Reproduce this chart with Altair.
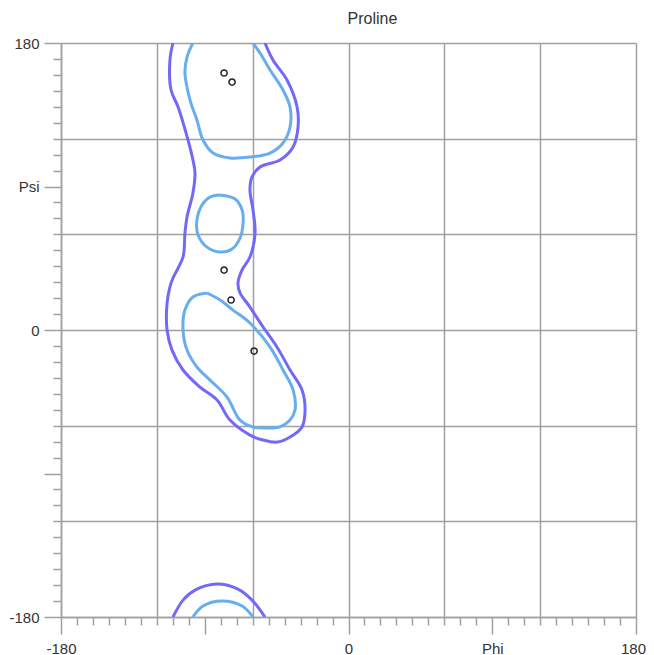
import altair as alt
import pandas as pd

# ---- data (phi, psi in degrees) ----
outer_main_phi = [-109.9, -111.8, -111.1, -106.7, -100.5, -97.4, -96.1, -97.4, -101.1, -102.4,
                  -103.6, -109.9, -111.8, -113.6, -113.6, -110.5, -103.6, -93.0, -82.3, -74.2,
                  -61.7, -53.5, -44.8, -36.6, -29.1, -27.2, -29.1, -36.6, -44.8, -53.5,
                  -61.7, -67.9, -69.2, -66.7, -61.7, -58.5, -59.8, -61.7, -60.4, -55.4,
                  -42.9, -34.7, -31.6, -32.2, -38.5, -47.3, -52.3]
outer_main_psi = [180.0, 169.3, 150.5, 139.9, 119.2, 106.6, 98.5, 85.9, 70.9, 60.8,
                  45.8, 32.6, 27.0, 16.9, 0.0, -12.6, -25.1, -35.8, -43.9, -56.5,
                  -65.9, -69.0, -70.3, -67.1, -60.8, -50.2, -37.6, -25.1, -10.7, 1.9,
                  14.4, 23.2, 29.5, 37.6, 45.8, 60.8, 75.3, 87.8, 96.0, 102.2,
                  106.6, 114.8, 127.3, 139.9, 156.8, 169.3, 180.0]

outer_bottom_phi = [-109.9, -103.6, -96.1, -82.3, -69.2, -60.4, -52.3]
outer_bottom_psi = [-180.0, -169.4, -163.1, -159.3, -162.5, -169.4, -180.0]

inner_top_phi = [-97.4, -101.1, -102.4, -99.2, -94.9, -91.1, -84.8, -74.2, -61.7, -49.1,
                 -41.0, -36.6, -36.6, -41.0, -49.1, -55.4, -59.8]
inner_top_psi = [180.0, 171.2, 161.2, 144.2, 131.7, 119.2, 111.0, 107.9, 108.5, 111.0,
                 117.3, 127.3, 139.9, 150.5, 163.1, 173.7, 180.0]

inner_bottom_phi = [-97.4, -91.1, -79.2, -66.6, -59.8]
inner_bottom_psi = [-180.0, -173.1, -170.0, -173.1, -180.0]

inner_mid_phi = [-80.4, -71.0, -66.6, -66.0, -67.9, -72.9, -80.4, -88.6, -94.2, -94.9, -91.7, -86.7, -80.4]
inner_mid_psi = [84.7, 82.2, 75.3, 67.1, 57.7, 50.8, 48.9, 52.0, 59.6, 69.0, 78.4, 83.4, 84.7]

inner_low_phi = [-88.6, -80.4, -72.3, -61.7, -49.1, -41.0, -34.7, -33.5, -36.6, -42.9,
                 -51.0, -59.8, -67.9, -76.1, -86.7, -94.9, -101.1, -103.6, -102.4, -97.4, -88.6]
inner_low_psi = [23.2, 18.8, 12.5, 4.4, -10.7, -25.1, -37.6, -50.2, -56.5, -60.8,
                 -61.5, -60.8, -56.5, -42.0, -31.4, -23.2, -12.6, 0.0, 12.5, 20.7, 23.2]

point_phi = [-77.9, -72.9, -77.9, -73.5, -59.1]
point_psi = [161.2, 155.5, 37.6, 18.8, -13.2]

segments = [
    ("outer_main", "outer", outer_main_phi, outer_main_psi),
    ("outer_bottom", "outer", outer_bottom_phi, outer_bottom_psi),
    ("inner_top", "inner", inner_top_phi, inner_top_psi),
    ("inner_bottom", "inner", inner_bottom_phi, inner_bottom_psi),
    ("inner_mid", "inner", inner_mid_phi, inner_mid_psi),
    ("inner_low", "inner", inner_low_phi, inner_low_psi),
]

rows = []
for seg, level, phis, psis in segments:
    for i, (a, b) in enumerate(zip(phis, psis)):
        rows.append({"seg": seg, "level": level, "i": i, "phi": a, "psi": b})
lines_df = pd.DataFrame(rows)
pts_df = pd.DataFrame({"phi": point_phi, "psi": point_psi})

ticks = list(range(-180, 181, 10))
GRAY = "#a0a0a0"
TXT = "#333333"
FONT = "Liberation Sans"

def make_axis(lab90, pad, last_offset):
    return alt.Axis(
        values=ticks,
        tickCount=100,
        title=None,
        grid=True,
        gridColor=GRAY,
        gridWidth=1.5,
        gridOpacity={"condition": {"test": "datum.value % 60 === 0", "value": 1}, "value": 0},
        domainColor=GRAY,
        domainWidth=1.5,
        tickColor=GRAY,
        tickWidth=1.5,
        tickSize={"condition": {"test": "datum.value % 90 === 0", "value": 17}, "value": 8},
        labelExpr=f"datum.value === 90 ? '{lab90}' : (datum.value % 180 === 0 ? '' + datum.value : '')",
        labelFlush=False,
        labelOverlap=False,
        labelFontSize=15,
        labelColor=TXT,
        labelFont=FONT,
        labelPadding=pad,
        labelOffset={"condition": {"test": "datum.value === 180", "value": last_offset}, "value": 0},
    )

xs = alt.Scale(domain=[-180, 180], nice=False, zero=False)
ys = alt.Scale(domain=[-180, 180], nice=False, zero=False)

lines = alt.Chart(lines_df).mark_line(strokeWidth=3, interpolate="catmull-rom", clip=True).encode(
    x=alt.X("phi:Q", scale=xs, axis=make_axis("Phi", 7, -3)),
    y=alt.Y("psi:Q", scale=ys, axis=make_axis("Psi", 5, 0)),
    color=alt.Color("level:N", scale=alt.Scale(domain=["outer", "inner"], range=["#7468f8", "#68aeee"]), legend=None),
    detail="seg:N",
    order="i:Q",
)

points = alt.Chart(pts_df).mark_point(shape="circle", size=38, filled=False, stroke="#222222", strokeWidth=1.5, opacity=1).encode(
    x=alt.X("phi:Q", scale=xs),
    y=alt.Y("psi:Q", scale=ys),
)

chart = alt.layer(lines, points).properties(
    width=575,
    height=574,
    title=alt.TitleParams("Proline", fontSize=16, font=FONT, color=TXT, fontWeight="normal", offset=9, dx=24),
    autosize=alt.AutoSizeParams(type="none"),
    padding={"left": 53, "top": 35, "right": 10, "bottom": 38},
).configure_view(stroke=None)

chart.save("out.html", embed_options={"renderer": "svg", "actions": False})
